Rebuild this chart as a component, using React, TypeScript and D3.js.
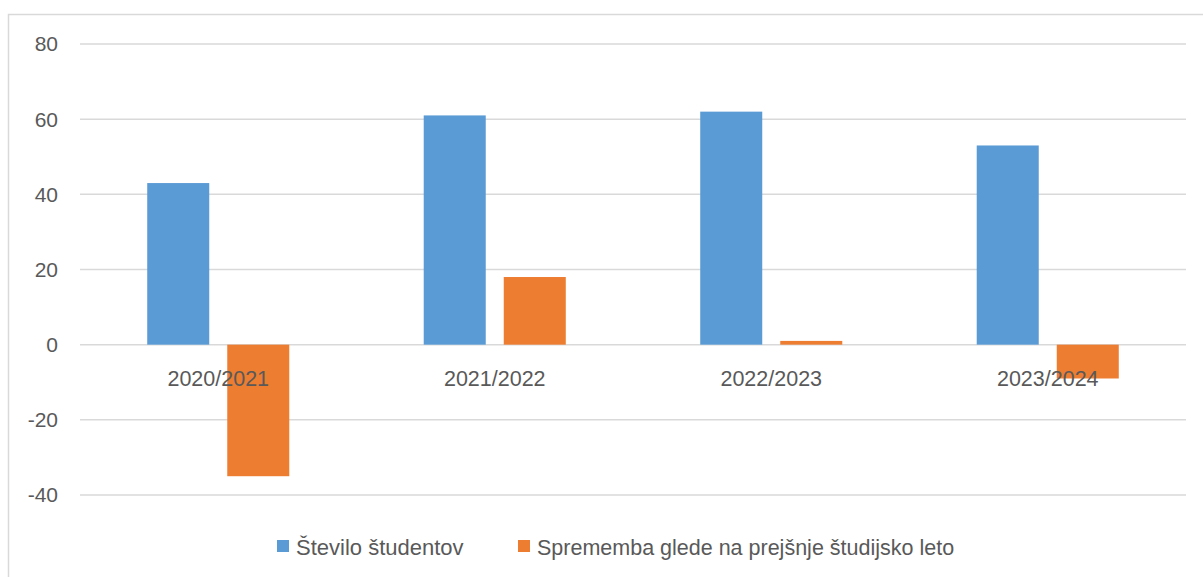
import React from 'react';
import { scaleBand, scaleLinear } from 'd3';

// chart data
const categories = ['2020/2021', '2021/2022', '2022/2023', '2023/2024'];
const seriesNames = ['Število študentov', 'Sprememba glede na prejšnje študijsko leto'];
const students = [43, 61, 62, 53];
const change = [-35, 18, 1, -9];
const yTicks = [-40, -20, 0, 20, 40, 60, 80];

const colors = ['#5b9bd5', '#ed7d31'];
const textColor = '#595959';
const gridColor = '#d9d9d9';
const font = '"Liberation Sans", Arial, sans-serif';

function App() {
  const width = 1203;
  const height = 577;
  const plot = { left: 80, right: 1186, top: 44, bottom: 495 };

  const yScale = scaleLinear().domain([-40, 80]).range([plot.bottom, plot.top]);
  const x0 = scaleBand().domain(categories).range([plot.left, plot.right]);
  const x1 = scaleBand()
    .domain(['0', '1'])
    .range([0, x0.bandwidth()])
    .paddingInner(0.225)
    .paddingOuter(0.84);

  const series = [students, change];

  return (
    <svg
      width={width}
      height={height}
      style={{ position: 'absolute', left: 0, top: 0, background: '#fff' }}
    >
      {/* outer frame */}
      <rect x={8.5} y={14.5} width={1300} height={700} fill="none" stroke={gridColor} strokeWidth={1.5} />

      {/* gridlines and y ticks */}
      {yTicks.map(t => (
        <g key={t}>
          <line
            x1={plot.left}
            x2={plot.right}
            y1={yScale(t)}
            y2={yScale(t)}
            stroke={gridColor}
            strokeWidth={1.5}
          />
          <text
            x={58}
            y={yScale(t)}
            dy="0.35em"
            textAnchor="end"
            fontFamily={font}
            fontSize={21}
            fill={textColor}
          >
            {t}
          </text>
        </g>
      ))}

      {/* bars */}
      {categories.map((c, i) => (
        <g key={c} transform={`translate(${x0(c)},0)`}>
          {series.map((s, j) => {
            const v = s[i];
            const y = Math.min(yScale(v), yScale(0));
            const h = Math.abs(yScale(v) - yScale(0));
            return (
              <rect
                key={j}
                x={x1(String(j))}
                y={y}
                width={x1.bandwidth()}
                height={h}
                fill={colors[j]}
              />
            );
          })}
        </g>
      ))}

      {/* category labels drawn over the bars */}
      {categories.map(c => (
        <text
          key={c}
          x={(x0(c) || 0) + x0.bandwidth() / 2}
          y={378}
          dy="0.35em"
          textAnchor="middle"
          fontFamily={font}
          fontSize={21.5}
          fill={textColor}
        >
          {c}
        </text>
      ))}

      {/* legend */}
      <g>
        <rect x={277} y={540} width={12} height={12} fill={colors[0]} />
        <text x={296} y={547} dy="0.35em" fontFamily={font} fontSize={22} fill={textColor}>
          {seriesNames[0]}
        </text>
        <rect x={518} y={540} width={12} height={12} fill={colors[1]} />
        <text x={537} y={547} dy="0.35em" fontFamily={font} fontSize={21.5} fill={textColor}>
          {seriesNames[1]}
        </text>
      </g>
    </svg>
  );
}

export default App;
